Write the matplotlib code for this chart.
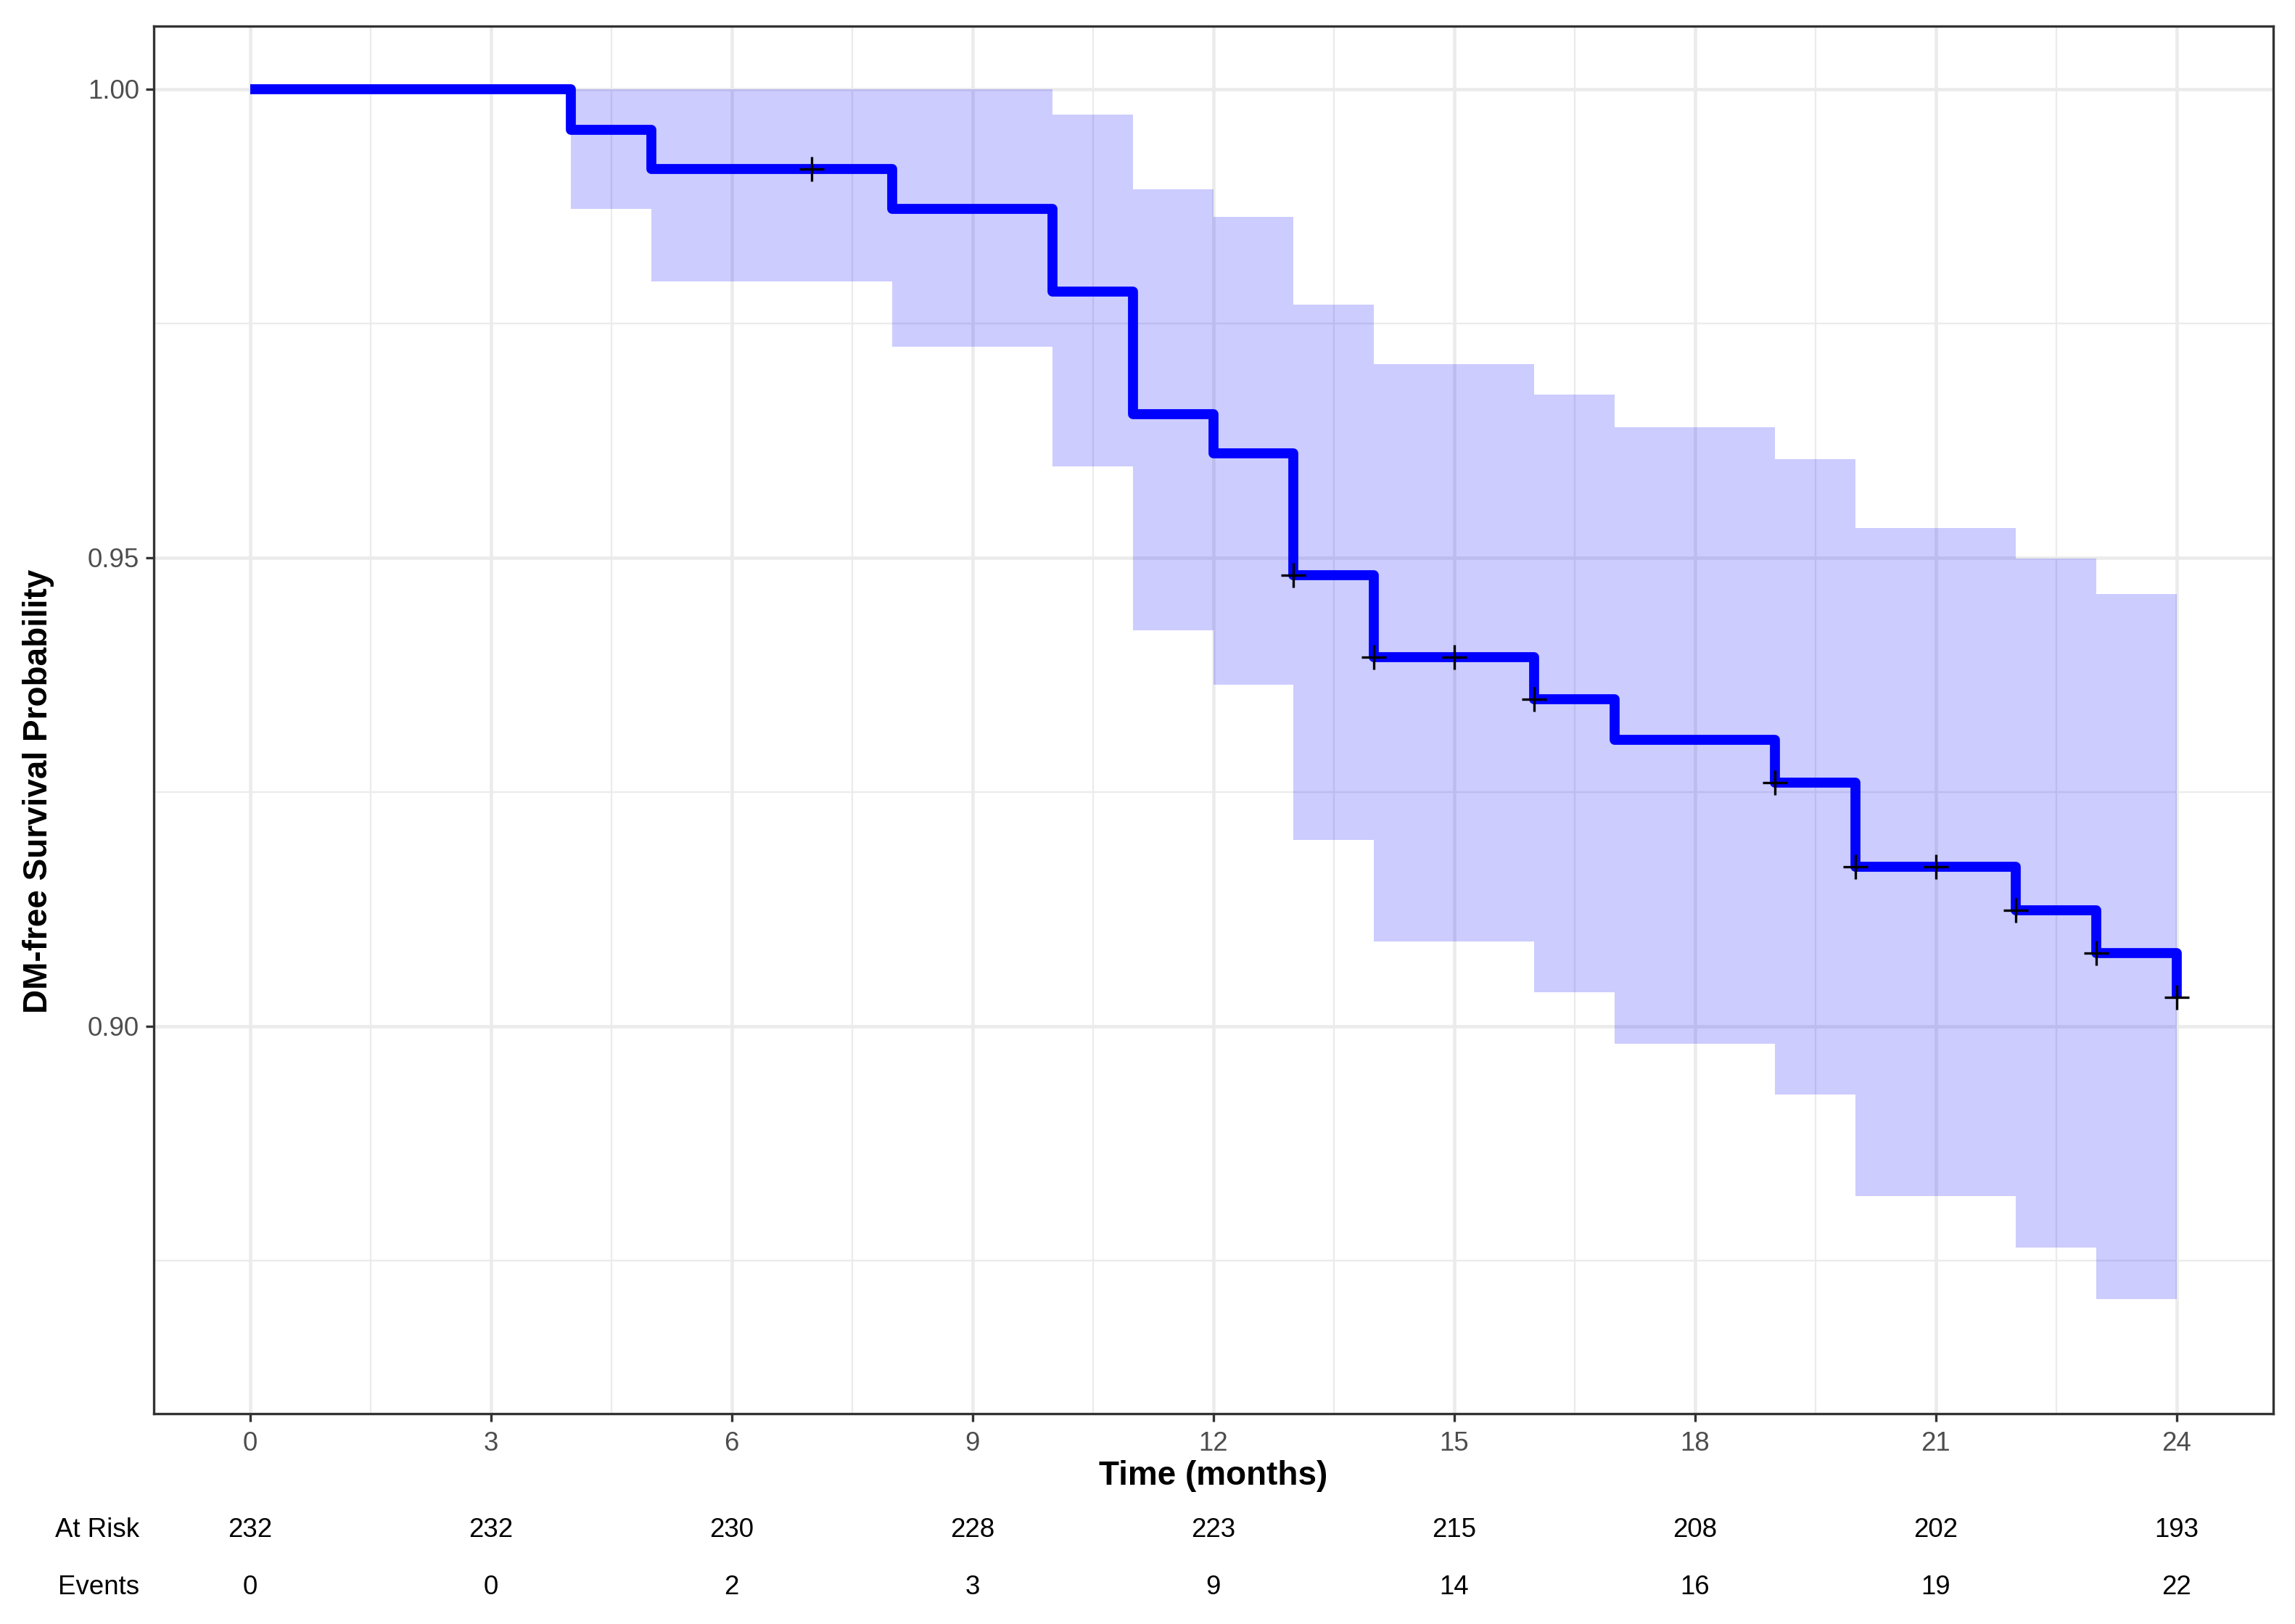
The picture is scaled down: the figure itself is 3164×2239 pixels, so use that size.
import numpy as np
import matplotlib
matplotlib.use("Agg")
import matplotlib.pyplot as plt
from matplotlib import transforms

plt.rcParams['font.family'] = ['Liberation Sans', 'DejaVu Sans']

# ---- data ----
surv_times = [0, 4, 5, 8, 10, 11, 12, 13, 14, 16, 17, 19, 20, 22, 23, 24]
surv_vals = [1.0, 0.99564, 0.99144, 0.98723, 0.97837, 0.96535, 0.96114, 0.94817,
             0.93936, 0.93493, 0.93056, 0.92600, 0.91702, 0.91235, 0.90780, 0.90313]
# confidence band per interval [t_i, t_{i+1})
ci_upper = [1.0, 1.0, 1.0, 1.0, 0.99728, 0.98931, 0.98639, 0.97703,
            0.97067, 0.96737, 0.96392, 0.96049, 0.95319, 0.94990, 0.94616]
ci_lower = [1.0, 0.98723, 0.97951, 0.97253, 0.95976, 0.94223, 0.93647, 0.91986,
            0.90904, 0.90361, 0.89811, 0.89273, 0.88186, 0.87636, 0.87086]
censor_times = [7, 13, 14, 15, 16, 19, 20, 21, 22, 23, 24]

table_times = [0, 3, 6, 9, 12, 15, 18, 21, 24]
at_risk = [232, 232, 230, 228, 223, 215, 208, 202, 193]
events = [0, 0, 2, 3, 9, 14, 16, 19, 22]

# ---- figure ----
W, H = 3164, 2239
dpi = 300
fig = plt.figure(figsize=(W / dpi, H / dpi), dpi=dpi)
ax = fig.add_axes([0.0670, 0.1297, 0.9904 - 0.0670, 0.9838 - 0.1297])

grid_col = '#EBEBEB'
ax.set_xlim(-1.2, 25.2)
ax.set_ylim(0.8587, 1.0067)
ax.set_xticks(table_times)
ax.set_xticks(np.arange(1.5, 24, 3), minor=True)
ax.set_yticks([0.90, 0.95, 1.00])
ax.set_yticks([0.875, 0.925, 0.975], minor=True)
ax.set_yticklabels(['0.90', '0.95', '1.00'])
ax.grid(which='major', color=grid_col, linewidth=1.1, zorder=0)
ax.grid(which='minor', color=grid_col, linewidth=0.55, zorder=0)
ax.set_axisbelow(True)

# band
band_x = surv_times
band_up = ci_upper + [ci_upper[-1]]
band_lo = ci_lower + [ci_lower[-1]]
ax.fill_between(band_x, band_lo, band_up, step='post', color='#0000FF',
                alpha=0.2, linewidth=0, zorder=2)

# survival step line
ax.step(surv_times, surv_vals, where='post', color='#0000FF', linewidth=3.3,
        solid_joinstyle='round', solid_capstyle='butt', zorder=3)

# censor marks
st = np.array(surv_times)
sv = np.array(surv_vals)
cy = [sv[np.searchsorted(st, t, side='right') - 1] for t in censor_times]
ax.plot(censor_times, cy, linestyle='none', marker='+', color='black',
        markersize=8, markeredgewidth=0.8, zorder=4)

for s in ax.spines.values():
    s.set_color('#333333')
    s.set_linewidth(0.8)

ax.tick_params(axis='both', which='major', length=2.6, width=0.8, color='#333333',
               labelsize=8.8, labelcolor='#4D4D4D', pad=2.2)
ax.tick_params(axis='x', which='major', pad=3.2)
ax.tick_params(axis='both', which='minor', length=0)

ax.set_xlabel('Time (months)', fontsize=11, fontweight='bold', color='black')
ax.xaxis.set_label_coords(0.5, (0.0912 - 0.1297) / (0.9838 - 0.1297))
ax.xaxis.label.set_verticalalignment('center')

fig.text(0.0166, 0.5126, 'DM-free Survival Probability', rotation=90,
         fontsize=11, fontweight='bold', color='black', ha='center', va='center')

# risk table
trans = transforms.blended_transform_factory(ax.transData, fig.transFigure)
y_risk, y_events = 0.0577, 0.0226
for t, n in zip(table_times, at_risk):
    ax.text(t, y_risk, str(n), transform=trans, ha='center', va='center',
            fontsize=8.8, color='black', clip_on=False)
for t, e in zip(table_times, events):
    ax.text(t, y_events, str(e), transform=trans, ha='center', va='center',
            fontsize=8.8, color='black', clip_on=False)
fig.text(0.0606, y_risk, 'At Risk', ha='right', va='center', fontsize=8.8, color='black')
fig.text(0.0606, y_events, 'Events', ha='right', va='center', fontsize=8.8, color='black')

fig.savefig('out.png', dpi=dpi, facecolor='white')
